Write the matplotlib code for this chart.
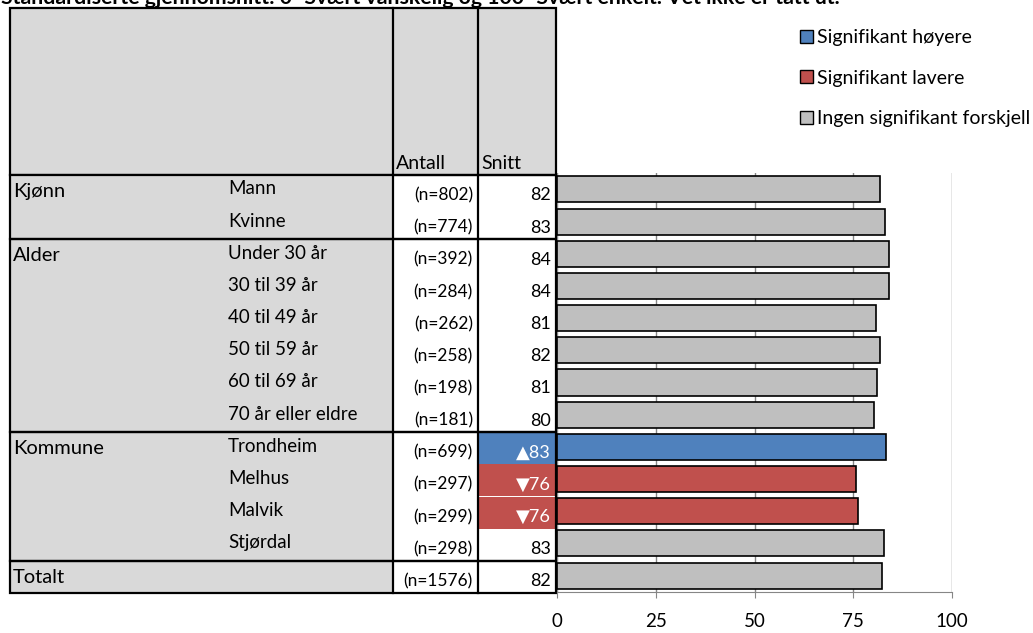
import matplotlib.pyplot as plt
from matplotlib.patches import Rectangle, Patch

plt.rcParams['font.family'] = ['Lato', 'DejaVu Sans']

title = "Standardiserte gjennomsnitt: 0=Svært vanskelig og 100=Svært enkelt. Vet ikke er tatt ut."

groups = ["Kjønn", "Alder", "Kommune", "Totalt"]
group_sizes = [2, 6, 4, 1]
labels = ["Mann", "Kvinne", "Under 30 år", "30 til 39 år", "40 til 49 år", "50 til 59 år",
          "60 til 69 år", "70 år eller eldre", "Trondheim", "Melhus", "Malvik", "Stjørdal", ""]
counts = [802, 774, 392, 284, 262, 258, 198, 181, 699, 297, 299, 298, 1576]
snitt = [82, 83, 84, 84, 81, 82, 81, 80, 83, 76, 76, 83, 82]
values = [81.7, 82.9, 84.0, 84.0, 80.7, 81.7, 81.0, 80.3, 83.2, 75.7, 76.2, 82.7, 82.2]
signif = ["none"] * 8 + ["high", "low", "low", "none", "none"]

colors = {"high": "#4F81BD", "low": "#C0504D", "none": "#BFBFBF"}
legend_labels = {"high": "Signifikant høyere", "low": "Signifikant lavere",
                 "none": "Ingen signifikant forskjell"}
arrows = {"high": "\u25B2", "low": "\u25BC", "none": ""}

W, H = 1033, 633
fig = plt.figure(figsize=(W / 100, H / 100), dpi=100)

# overlay in pixel coords for the table
tab = fig.add_axes([0, 0, 1, 1])
tab.set_xlim(0, W)
tab.set_ylim(H, 0)
tab.axis("off")

x_left, x_ant, x_sn, x_right = 10, 393, 478, 556
y_head, y0, row_h = 8, 175, 32.15
n_rows = len(labels)
y_end = y0 + n_rows * row_h
lw = 1.6

tab.text(1, 4.5, title, fontsize=15.3, fontweight="bold", va="baseline", ha="left")

# header
tab.add_patch(Rectangle((x_left, y_head), x_right - x_left, y0 - y_head,
                        facecolor="#D9D9D9", edgecolor="black", lw=lw))
tab.text(x_ant + 3, y0 - 6, "Antall", fontsize=14, va="baseline")
tab.text(x_sn + 3, y0 - 6, "Snitt", fontsize=14, va="baseline")

# label column background
tab.add_patch(Rectangle((x_left, y0), x_ant - x_left, y_end - y0,
                        facecolor="#D9D9D9", edgecolor="none"))

# coloured snitt cells
for i, s in enumerate(signif):
    if s != "none":
        tab.add_patch(Rectangle((x_sn, y0 + i * row_h), x_right - x_sn, row_h,
                                facecolor=colors[s], edgecolor="none"))

# group blocks
start = 0
for g, size in zip(groups, group_sizes):
    top = y0 + start * row_h
    tab.add_patch(Rectangle((x_left, top), x_right - x_left, size * row_h,
                            facecolor="none", edgecolor="black", lw=lw))
    tab.text(x_left + 3, top + 16.5, g, fontsize=14.5, va="center")
    start += size

for x in (x_ant, x_sn):
    tab.plot([x, x], [y_head, y_end], color="black", lw=lw)

for i in range(n_rows):
    top = y0 + i * row_h
    tab.text(228, top + 14, labels[i], fontsize=13.5, va="center")
    tab.text(x_sn - 5, top + 20.5, f"(n={counts[i]})", fontsize=12.5, va="center", ha="right")
    s = signif[i]
    txt_col = "white" if s != "none" else "black"
    tab.text(x_right - 5, top + 20.5, f"{arrows[s]}{snitt[i]}", fontsize=13,
             va="center", ha="right", color=txt_col)

# bar chart
ax_top, ax_bot = 173.3, 591.7
ax = fig.add_axes([556.7 / W, 1 - ax_bot / H, (952.3 - 556.7) / W, (ax_bot - ax_top) / H])
ax.patch.set_alpha(0)
ypos = list(range(n_rows))
ax.barh(ypos, values, height=0.81, color=[colors[s] for s in signif],
        edgecolor="black", linewidth=1.2, zorder=3)
ax.set_xlim(0, 100)
ax.set_ylim(n_rows - 0.5, -0.5)
ax.set_xticks([0, 25, 50, 75, 100])
ax.set_yticks([])
ax.grid(axis="x", color="#868686", lw=1, zorder=0)
for sp in ("top", "right", "left"):
    ax.spines[sp].set_visible(False)
ax.spines["bottom"].set_color("#868686")
ax.tick_params(axis="x", length=4, color="#868686", labelsize=13.5, pad=11)

handles = [Patch(facecolor=colors[k], edgecolor="black", lw=1) for k in ("high", "low", "none")]
fig.legend(handles, [legend_labels[k] for k in ("high", "low", "none")],
           loc="upper left", bbox_to_anchor=(800 / W, 1 - 29 / H), frameon=False,
           fontsize=14, handlelength=0.65, handleheight=0.65, handletextpad=0.2,
           labelspacing=1.22, borderaxespad=0, borderpad=0)

fig.savefig("out.png", dpi=100)
